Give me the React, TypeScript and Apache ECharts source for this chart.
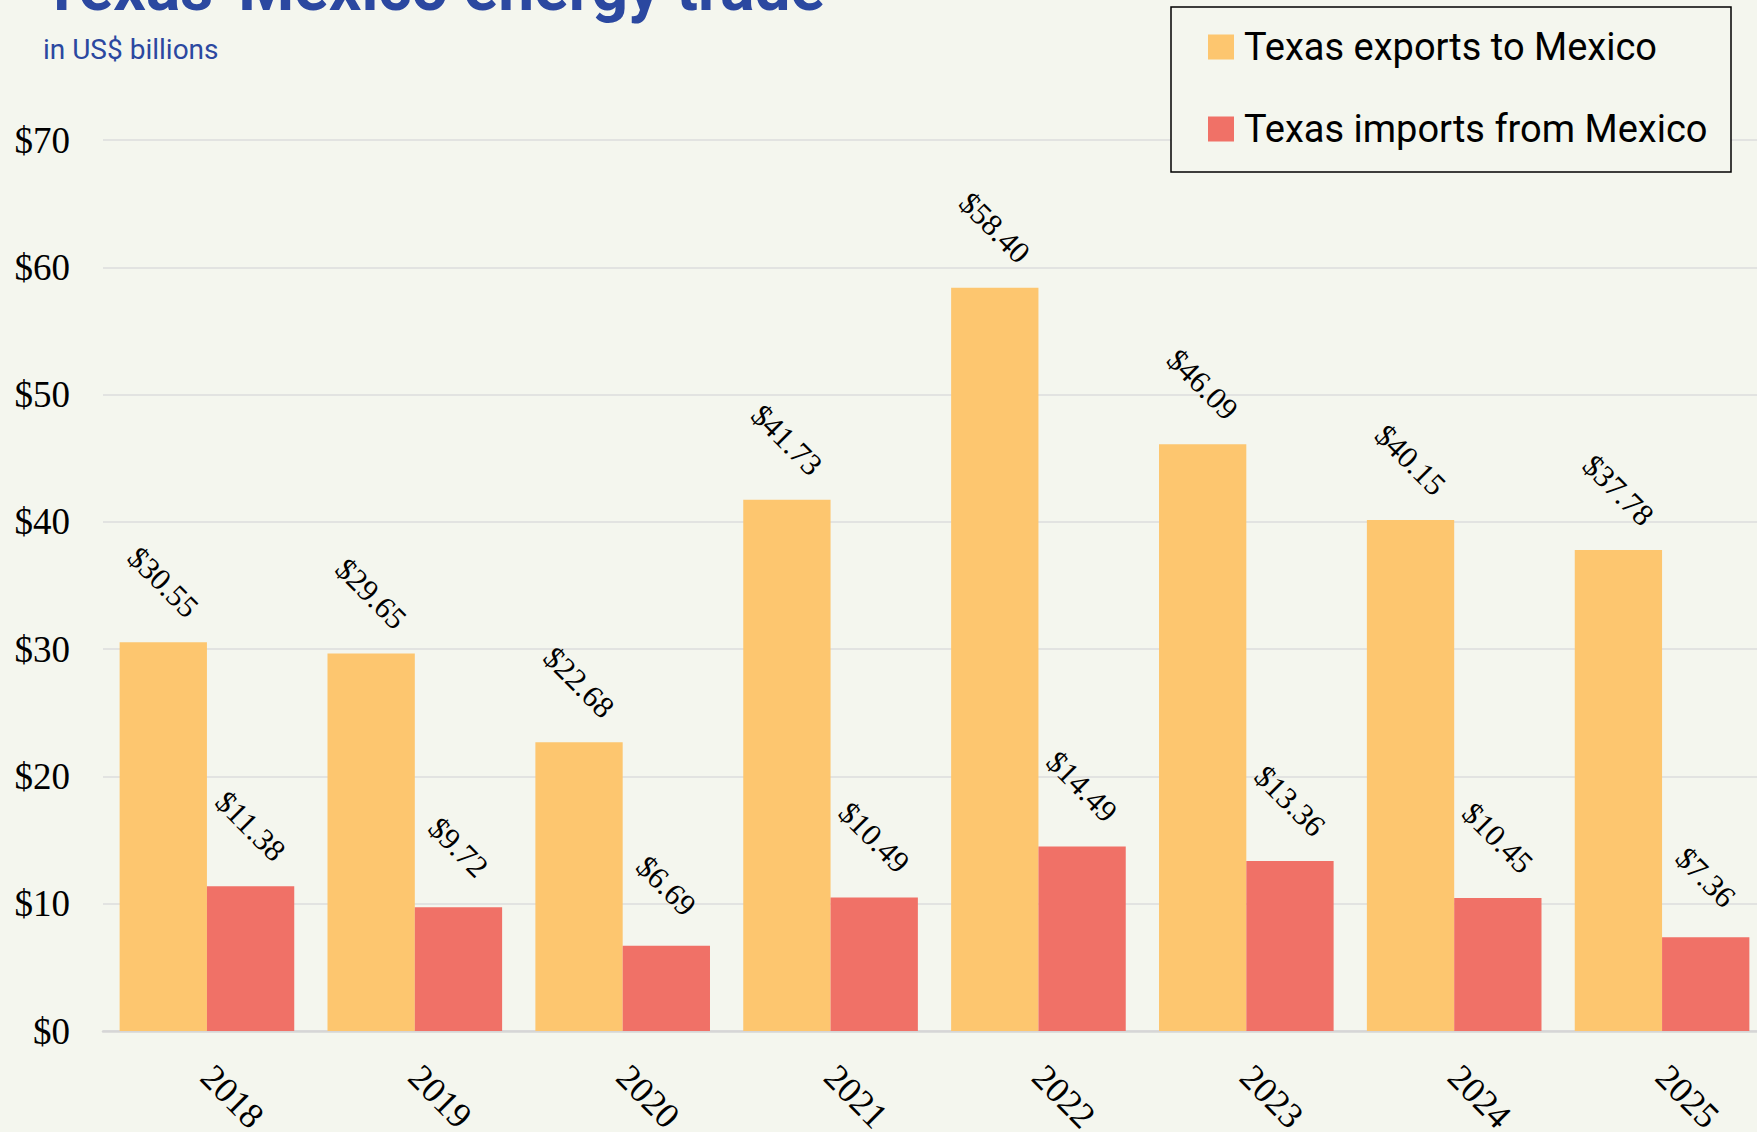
import React, { useEffect, useRef } from "react";
import * as echarts from "echarts";

const years = ["2018", "2019", "2020", "2021", "2022", "2023", "2024", "2025"];
const exportsToMexico = [30.55, 29.65, 22.68, 41.73, 58.4, 46.09, 40.15, 37.78];
const importsFromMexico = [11.38, 9.72, 6.69, 10.49, 14.49, 13.36, 10.45, 7.36];
const seriesNames = ["Texas exports to Mexico", "Texas imports from Mexico"];
const titleText = "Texas-Mexico energy trade";
const subtitleText = "in US$ billions";

const BG = "#F4F6EE";
const ORANGE = "#FDC66F";
const RED = "#F07167";
const BLUE = "#2B48A0";
const SERIF = "'Liberation Serif', 'Times New Roman', serif";
const SANS = "Roboto, 'Liberation Sans', sans-serif";

export default function App() {
  const ref = useRef<HTMLDivElement>(null);

  useEffect(() => {
    if (!ref.current) return;
    const chart = echarts.init(ref.current, undefined, { renderer: "svg" });
    const labelCfg = {
      show: true,
      position: "top",
      distance: 60,
      rotate: -45,
      align: "center",
      verticalAlign: "middle",
      fontFamily: SERIF,
      fontSize: 31,
      color: "#000",
      formatter: (p: any) => "$" + Number(p.value).toFixed(2),
    };
    chart.setOption({
      animation: false,
      backgroundColor: BG,
      grid: {
        left: 103,
        right: -9,
        top: 140,
        bottom: 101,
        containLabel: false,
        outerBoundsMode: "none",
      },
      graphic: [
        {
          type: "text",
          x: 42,
          y: 20,
          z: 50,
          style: {
            text: titleText,
            fontFamily: SANS,
            fontWeight: 700,
            fontSize: 64,
            fill: BLUE,
            verticalAlign: "bottom",
          },
        },
        {
          type: "text",
          x: 43,
          y: 49,
          z: 50,
          style: {
            text: subtitleText,
            fontFamily: SANS,
            fontSize: 28,
            fill: BLUE,
            verticalAlign: "middle",
          },
        },
        {
          type: "rect",
          z: 10,
          shape: { x: 1171, y: 7, width: 560, height: 165 },
          style: { fill: BG, stroke: "#000", lineWidth: 1.5 },
        },
      ],
      legend: {
        z: 20,
        orient: "vertical",
        left: 1208,
        top: 27,
        padding: 0,
        itemWidth: 26,
        itemHeight: 25,
        itemGap: 42,
        icon: "rect",
        selectedMode: false,
        textStyle: {
          fontFamily: SANS,
          fontSize: 38,
          lineHeight: 40,
          color: "#000",
          padding: [0, 0, 0, 5],
        },
        data: seriesNames,
      },
      xAxis: {
        type: "category",
        data: years,
        axisLine: { lineStyle: { color: "#D6D6D6", width: 2.5 } },
        axisTick: { show: false },
        axisLabel: {
          rotate: -45,
          margin: 40,
          fontFamily: SERIF,
          fontSize: 36,
          color: "#000",
        },
      },
      yAxis: {
        type: "value",
        min: 0,
        max: 70,
        interval: 10,
        axisLine: { show: false },
        axisTick: { show: false },
        splitLine: { lineStyle: { color: "#DCDCDC", width: 1.5 } },
        axisLabel: {
          margin: 33,
          fontFamily: SERIF,
          fontSize: 37,
          color: "#000",
          formatter: (v: number) => "$" + v,
        },
      },
      series: [
        {
          name: seriesNames[0],
          type: "bar",
          data: exportsToMexico,
          barGap: "0%",
          barCategoryGap: "16%",
          itemStyle: { color: ORANGE },
          label: labelCfg,
        },
        {
          name: seriesNames[1],
          type: "bar",
          data: importsFromMexico,
          barGap: "0%",
          barCategoryGap: "16%",
          itemStyle: { color: RED },
          label: labelCfg,
        },
      ],
    });
    return () => chart.dispose();
  }, []);

  return (
    <div
      ref={ref}
      style={{ position: "fixed", left: 0, top: 0, width: 1757, height: 1132 }}
    />
  );
}
